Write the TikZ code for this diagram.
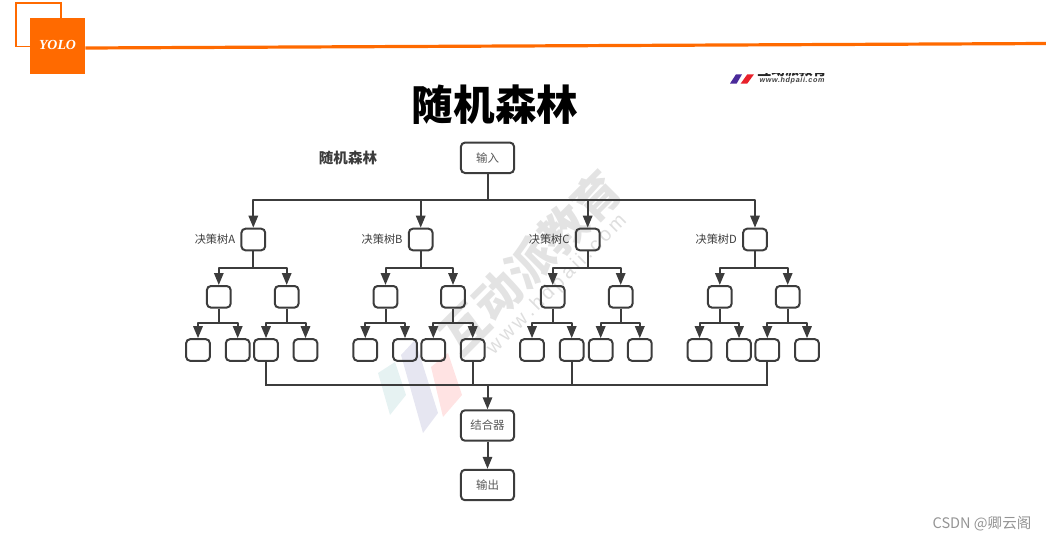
\documentclass[tikz,border=0pt]{standalone}
\usepackage{fontspec}
\setmainfont{Liberation Sans}
\newfontfamily\cjk{Noto Sans CJK SC}
\newfontfamily\yoloser{Liberation Serif}
\newfontfamily\wideurl[LetterSpace=9]{Liberation Sans}
\usetikzlibrary{arrows.meta,calc}
\definecolor{brand}{HTML}{FF6A00}
\definecolor{ink}{HTML}{3C3C3C}
\definecolor{logopurple}{HTML}{4A2A9A}
\definecolor{logored}{HTML}{E8212B}
\tikzset{
  px/.style={x=0.75pt,y=-0.75pt},
  box/.style={draw=ink,line width=1.5pt,rounded corners=3pt,inner sep=0pt,minimum width=17.8pt,minimum height=16.2pt},
  bigbox/.style={box,minimum width=39.8pt,minimum height=22.8pt,font=\cjk\fontsize{8.6pt}{10pt}\selectfont,text=ink!85},
  conn/.style={draw=ink,line width=1.5pt,line join=round},
  arr/.style={conn,-{Triangle[length=9pt,width=7pt]}},
  thin/.style={draw=ink,line width=1.35pt},
  treelabel/.style={font=\cjk\fontsize{8.4pt}{10pt}\selectfont,text=ink,inner sep=0pt,anchor=east},
}
% #1 prefix, #2 root x, #3 #4 level 2 x, #5-#8 level 3 x, #9 letter
\newcommand\dtree[9]{
  \node[box] (#1r) at (#2,239.5) {};
  \node[treelabel] (#1t) at ($(#1r.west)+(-5,0)$) {决策树#9};
  \node[box] (#1a) at (#3,296.8) {};
  \node[box] (#1b) at (#4,296.8) {};
  \node[box] (#1c) at (#5,350) {};
  \node[box] (#1d) at (#6,350) {};
  \node[box] (#1e) at (#7,350) {};
  \node[box] (#1f) at (#8,350) {};
  \draw[arr] (top.south |- barTop) -| (#1r.north);
  \draw[conn] (#1r.south) -- (#1r.south |- barTwo);
  \draw[arr] (#1r.south |- barTwo) -| (#1a.north);
  \draw[arr] (#1r.south |- barTwo) -| (#1b.north);
  \draw[conn] (#1a.south) -- (#1a.south |- barThree);
  \draw[arr] (#1a.south |- barThree) -| (#1c.north);
  \draw[arr] (#1a.south |- barThree) -| (#1d.north);
  \draw[conn] (#1b.south) -- (#1b.south |- barThree);
  \draw[arr] (#1b.south |- barThree) -| (#1e.north);
  \draw[arr] (#1b.south |- barThree) -| (#1f.north);
}
\begin{document}
\begin{tikzpicture}[px]
\useasboundingbox (0,0) rectangle (1046,540);
% watermark
\fill[teal!22!white,opacity=.45] (378,373) -- (395,362) -- (406,395) -- (390,415) -- cycle;
\fill[blue!30!gray!30!white,opacity=.5] (401,355) -- (415,340) -- (438,413) -- (423,433) -- cycle;
\fill[red!18!white,opacity=.6] (431,367) -- (448,353) -- (462,395) -- (443,417) -- cycle;
\node[rotate=45,text=black!11,font=\cjk\bfseries\fontsize{35pt}{37pt}\selectfont,inner sep=0pt] (wm) at (530,262) {互动派教育};
\node[rotate=45,text=black!13,font=\fontsize{15pt}{17pt}\selectfont,inner sep=0pt] (wmurl) at (557,285) {w\,w\,w\,.\,h\,d\,p\,a\,i\,i\,.\,c\,o\,m};
% header
\draw[brand,line width=1.4pt] (16,3) rectangle (61,46.5);
\node[fill=brand,minimum width=41.25pt,minimum height=42pt,inner sep=0pt] (logo) at (57.5,46) {};
\node[text=white,font=\yoloser\bfseries\itshape\fontsize{10.4pt}{12pt}\selectfont,inner sep=0pt] (yolo) at (57.5,45) {YOLO};
\coordinate (ruleEnd) at (1046,43.5);
\draw[brand,line width=2.4pt] (logo.east |- 0,48) -- (ruleEnd);
% small logo
\fill[logopurple] (730,83.5) -- (736,74.3) -- (742,74.3) -- (736.7,83.5) -- cycle;
\fill[logored] (740.7,83.5) -- (747.3,74.3) -- (754,74.3) -- (747.3,83.5) -- cycle;
\begin{scope}
  \clip (755,73) rectangle (830,76.6);
  \node[font=\cjk\bfseries\fontsize{10.4pt}{12pt}\selectfont,inner sep=0pt,text=black!85] (cutlogo) at (792,70.6) {互动派教育};
\end{scope}
\node[font=\wideurl\bfseries\itshape\fontsize{5.4pt}{6pt}\selectfont,text=black!75,inner sep=0pt] (logourl) at (792,80.2) {www.hdpaii.com};
% titles
\node[font=\cjk\bfseries\fontsize{31.2pt}{34pt}\selectfont,text=black,inner sep=0pt] (title) at (495,104.5) {随机森林};
\node[font=\cjk\bfseries\fontsize{10.9pt}{13pt}\selectfont,text=ink,inner sep=0pt] (sub) at (348,158) {随机森林};
% coordinates of the bus bars
\coordinate (barTop) at (0,200.3);
\coordinate (barTwo) at (0,268.3);
\coordinate (barThree) at (0,322.7);
\coordinate (barOut) at (0,385);
% main nodes
\node[bigbox] (top) at (487.5,157.8) {输入};
\node[bigbox] (comb) at (487.5,425.5) {结合器};
\node[bigbox] (out) at (487.5,485) {输出};
\draw[conn] (top.south) -- (top.south |- barTop);
% trees
\dtree{A}{253.3}{218.8}{286.7}{198}{237.7}{266}{305.5}{A}
\dtree{B}{420.7}{385.5}{453}{365.3}{405}{433.3}{472.7}{B}
\dtree{C}{587.7}{552.7}{620.7}{532}{571.7}{600.7}{639.8}{C}
\dtree{D}{755}{719.8}{787.7}{699.5}{739}{767.3}{807}{D}
% output bus
\draw[thin] (Ae.south) |- (Be.south |- barOut) -- (De.south |- barOut) -- (De.south);
\draw[thin] (Bf.south) -- (Bf.south |- barOut);
\draw[thin] (Cd.south) -- (Cd.south |- barOut);
\draw[arr] (comb.north |- barOut) -- (comb.north);
\draw[arr] (comb.south) -- (out.north);
% signature
\node[font=\cjk\fontsize{10.9pt}{12pt}\selectfont,text=black!42,inner sep=0pt] (csdn) at (982,524) {CSDN @卿云阁};
\end{tikzpicture}
\end{document}
